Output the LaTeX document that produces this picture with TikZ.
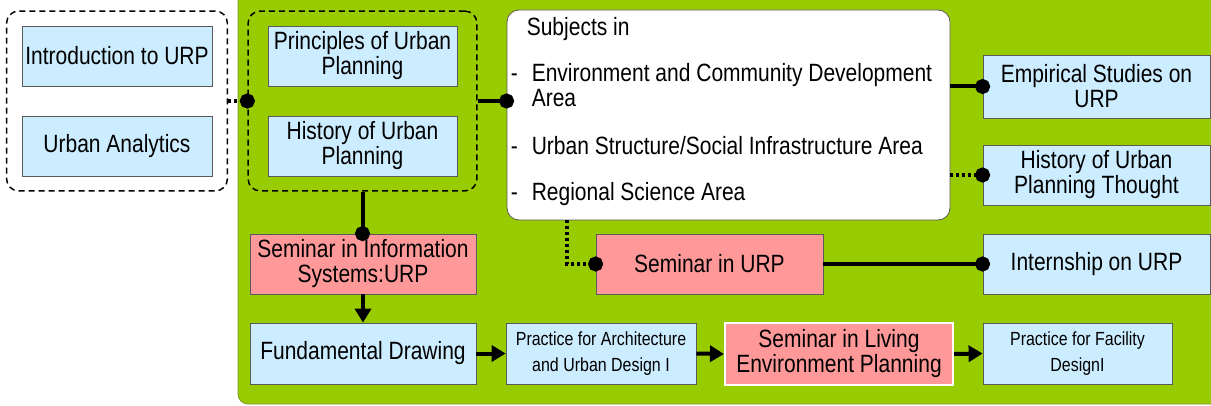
\documentclass[tikz,border=0pt]{standalone}
\usepackage{fontspec}
\setmainfont{Liberation Sans}[FakeStretch=0.84]
\usetikzlibrary{arrows.meta,fit}
\definecolor{bgreen}{HTML}{99CC00}
\definecolor{gborder}{HTML}{7A9A2A}
\definecolor{lblue}{HTML}{CCECFF}
\definecolor{lpink}{HTML}{FF9999}
\definecolor{boxgray}{HTML}{5A5A5A}
\newcommand\bigf{\fontsize{25}{25}\selectfont}
\newcommand\smallf{\fontsize{19}{26}\selectfont}
\begin{document}
\begin{tikzpicture}[x=1pt,y=-1pt,
  box/.style={draw=boxgray, line width=0.8pt, inner sep=0pt, align=center, font=\bigf},
  bluebox/.style={box, fill=lblue},
  pinkbox/.style={box, fill=lpink},
  grp/.style={draw=black, line width=1.5pt, dash pattern=on 6pt off 4pt, rounded corners=12pt},
  conn/.style={line width=4pt},
  dotc/.style={line width=4pt, dash pattern=on 3pt off 3pt},
  dotend/.style={-{Circle[length=15pt]}, shorten >=-7.5pt},
  arr/.style={line width=4pt, -{Triangle[length=14pt,width=16pt]}},
  txt/.style={font=\bigf, inner sep=0pt, anchor=west, text height=18pt, text depth=5pt}
]
\useasboundingbox (0,0) rectangle (1211,406);
% background
\draw[fill=bgreen, draw=gborder, line width=0.8pt, rounded corners=10pt] (238,-10) rectangle (1225,404);

% left group
\node[bluebox, minimum width=190pt, minimum height=60pt] (intro) at (117,56) {Introduction to URP};
\node[bluebox, minimum width=190pt, minimum height=60pt] (analytics) at (117,146) {Urban Analytics};
\node[grp, fit=(intro)(analytics), inner xsep=15pt, inner ysep=14.5pt] (lgrp) {};

% second group
\node[bluebox, minimum width=189pt, minimum height=60pt] (principles) at (362.5,56) {Principles of Urban\\Planning};
\node[bluebox, minimum width=189pt, minimum height=60pt] (historyup) at (362.5,146) {History of Urban\\Planning};
\node[grp, fit=(principles)(historyup), inner xsep=19.5pt, inner ysep=14.5pt] (grp2) {};

% subjects box
\node[draw=boxgray, line width=0.8pt, fill=white, rounded corners=12pt, minimum width=443pt, minimum height=210pt, inner sep=0pt] (subjects) at (728.5,115) {};
\node[txt] (s0) at ([shift={(20,19)}]subjects.north west) {Subjects in};
\node[txt] (d1) at ([shift={(4,65)}]subjects.north west) {-};
\node[txt] (s1) at ([shift={(25,65)}]subjects.north west) {Environment and Community Development};
\node[txt] (s1b) at ([shift={(25,90)}]subjects.north west) {Area};
\node[txt] (d2) at ([shift={(4,138)}]subjects.north west) {-};
\node[txt] (s2) at ([shift={(25,138)}]subjects.north west) {Urban Structure/Social Infrastructure Area};
\node[txt] (d3) at ([shift={(4,184)}]subjects.north west) {-};
\node[txt] (s3) at ([shift={(25,184)}]subjects.north west) {Regional Science Area};

% right column
\node[bluebox, minimum width=227pt, minimum height=63pt] (empirical) at (1096.5,86.5) {Empirical Studies on\\URP};
\node[bluebox, minimum width=227pt, minimum height=60pt] (histthought) at (1096.5,175) {History of Urban\\Planning Thought};
\node[bluebox, minimum width=227pt, minimum height=60pt] (intern) at (1096.5,264) {Internship on URP};

% middle row
\node[pinkbox, minimum width=226pt, minimum height=60pt] (semis) at (363,264) {Seminar in Information\\Systems:URP};
\node[pinkbox, minimum width=227pt, minimum height=60pt] (semurp) at (709.5,264) {Seminar in URP};

% bottom row
\node[bluebox, minimum width=226pt, minimum height=61pt] (fund) at (363,353.5) {Fundamental Drawing};
\node[bluebox, minimum width=190pt, minimum height=61pt, font=\smallf] (pract) at (601,353.5) {Practice for Architecture\\and Urban Design I};
\node[pinkbox, draw=white, line width=2pt, minimum width=228pt, minimum height=62pt] (semlep) at (839,354) {Seminar in Living\\Environment Planning};
\node[bluebox, minimum width=189pt, minimum height=61pt, font=\smallf] (pracfac) at (1077.5,353.5) {Practice for Facility\\DesignI};

% connectors
\draw[dotc, dotend] (lgrp.east) -- (grp2.west);
\draw[conn, dotend] (grp2.east) -- (grp2.east -| subjects.west);
\draw[conn, dotend] (empirical.west -| subjects.east) -- (empirical.west);
\draw[dotc, dotend] (histthought.west -| subjects.east) -- (histthought.west);
\draw[conn, dotend] (grp2.south) -- (grp2.south |- semis.north);
\draw[arr] (semis.south) -- (fund.north);
\draw[dotc, dotend] ([xshift=60pt]subjects.south west) |- (semurp.west);
\draw[conn, dotend] (semurp.east) -- (intern.west);
\draw[arr] (fund.east) -- (pract.west);
\draw[arr] (pract.east) -- (semlep.west);
\draw[arr] (semlep.east) -- (pracfac.west);
\end{tikzpicture}
\end{document}
